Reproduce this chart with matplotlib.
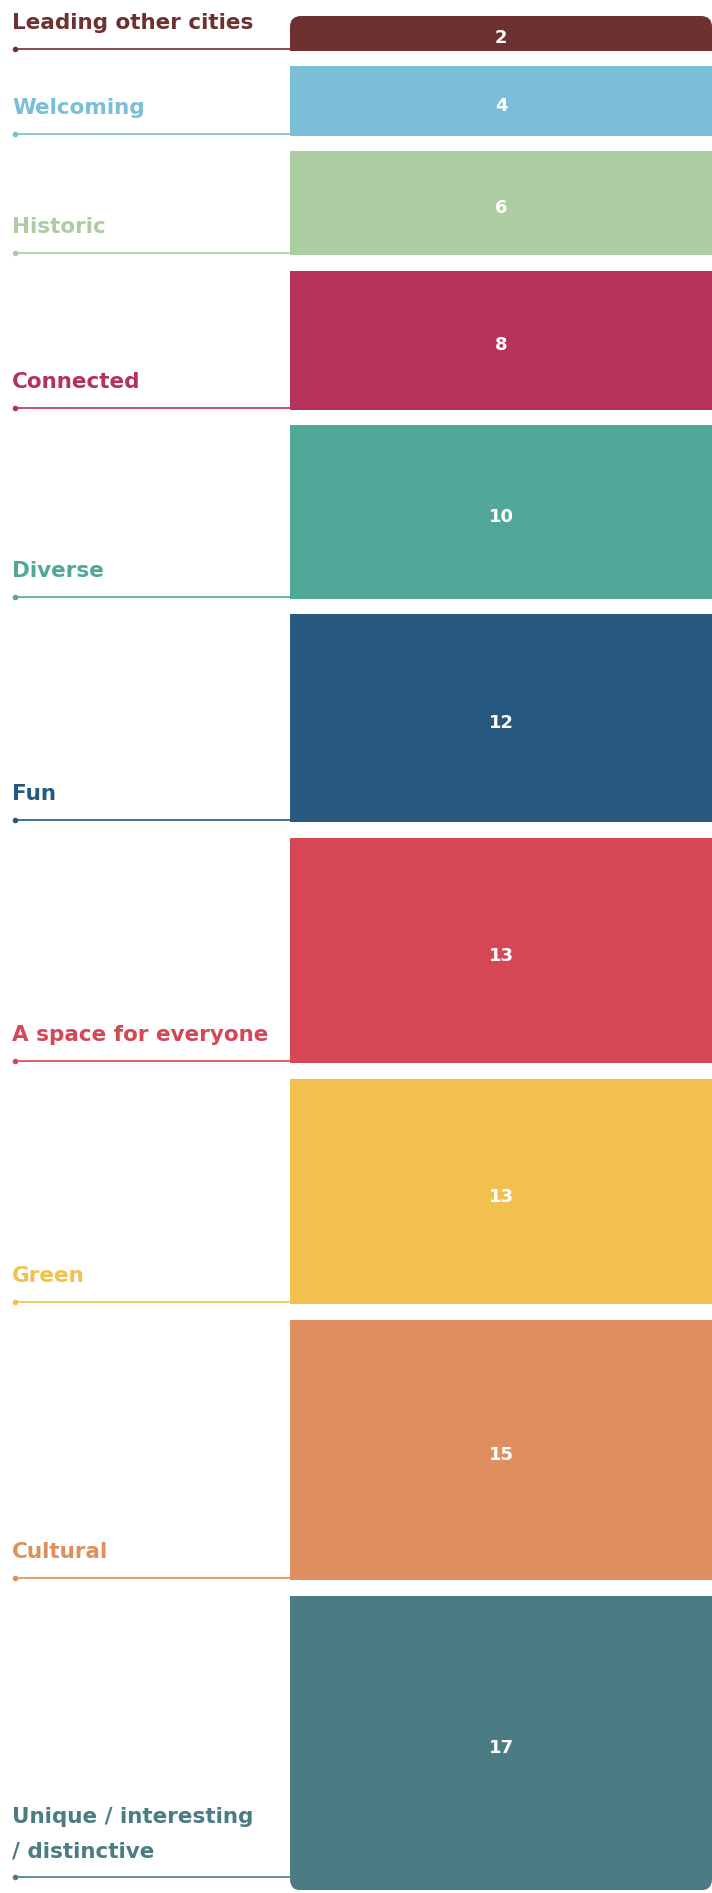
"""City perception: stacked blocks, one per attribute, height = share of mentions."""
import matplotlib
matplotlib.use("Agg")
import matplotlib.pyplot as plt
from matplotlib.patches import FancyBboxPatch
from matplotlib.transforms import offset_copy

LABELS = [
    "Leading other cities",
    "Welcoming",
    "Historic",
    "Connected",
    "Diverse",
    "Fun",
    "A space for everyone",
    "Green",
    "Cultural",
    "Unique / interesting\n/ distinctive",
]
VALUES = [2, 4, 6, 8, 10, 12, 13, 13, 15, 17]
COLORS = [
    "#6f3031", "#7abfd7", "#accca2", "#b5325a", "#52a898",
    "#27587f", "#d54754", "#f1c04f", "#df8f5f", "#4b7c83",
]

# --- layout (pixels at dpi 100) ---
W_PX, H_PX = 712, 1893
UNIT_PX = 17.33      # pixels per value unit
GAP_PX = 15.7        # white gap between blocks
TOP_PX = 16.0
BAR_X0 = 290
RADIUS = 11
LABEL_X = 12
DOT_X = 14.5
LABEL_RISE = 20      # baseline of last label line above the guide line
LINE_STEP = 34       # baseline spacing for two-line labels
FONT = ["DejaVu Sans"]

fig = plt.figure(figsize=(W_PX / 100, H_PX / 100), dpi=100)
ax = fig.add_axes([0, 0, 1, 1])
ax.set_xlim(0, W_PX)
ax.set_ylim(H_PX / UNIT_PX, 0)
ax.axis("off")

gap = GAP_PX / UNIT_PX
tops = []
y = TOP_PX / UNIT_PX
for v in VALUES:
    tops.append(y)
    y += v + gap
stack_end = tops[-1] + VALUES[-1]

# rounded outline for the whole stack (top and bottom corners)
clip = FancyBboxPatch(
    (BAR_X0, tops[0]), W_PX - BAR_X0, stack_end - tops[0],
    boxstyle=f"round,pad=0,rounding_size={RADIUS}",
    mutation_aspect=1 / UNIT_PX, transform=ax.transData,
)

bars = ax.bar(BAR_X0, VALUES, width=W_PX - BAR_X0, bottom=tops,
              align="edge", color=COLORS, linewidth=0)
for b in bars:
    b.set_clip_path(clip)

num_tr = offset_copy(ax.transData, fig=fig, y=-5, units="dots")
for v, t in zip(VALUES, tops):
    ax.text((BAR_X0 + W_PX) / 2, t + v / 2, str(v), transform=num_tr,
            ha="center", va="center", color="white", fontsize=13,
            fontweight="bold", family=FONT)

# guide lines with a dot at the left end, label sitting above;
# the last line stops above the rounded bottom corner
for i, (lab, v, t, c) in enumerate(zip(LABELS, VALUES, tops, COLORS)):
    lift = 2 + (RADIUS if i == len(VALUES) - 1 else 0)
    ly = t + v - lift / UNIT_PX
    ax.plot([DOT_X, BAR_X0], [ly, ly], color=c, lw=1.2, solid_capstyle="butt")
    ax.plot([DOT_X], [ly], "o", color=c, ms=4, mew=0)
    lines = lab.split("\n")
    for k, s in enumerate(reversed(lines)):
        tr = offset_copy(ax.transData, fig=fig,
                         y=LABEL_RISE + k * LINE_STEP, units="dots")
        ax.text(LABEL_X, ly, s, transform=tr, ha="left", va="baseline",
                color=c, fontsize=15.5, fontweight="bold", family=FONT)

fig.savefig("out.png", dpi=100)
